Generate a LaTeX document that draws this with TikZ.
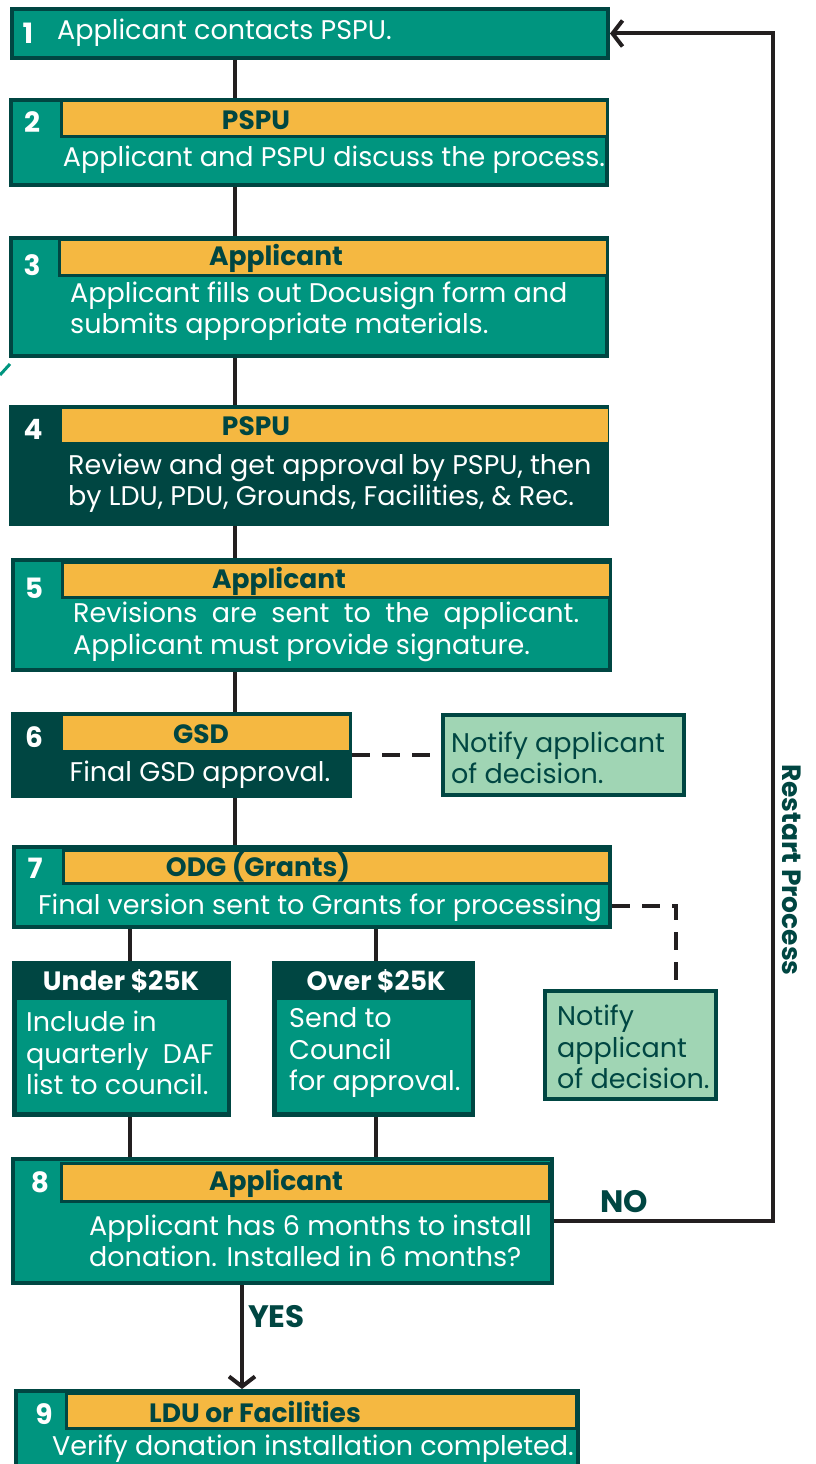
\documentclass[tikz,border=0pt]{standalone}
\usepackage{fontspec}
\setmainfont{Poppins}
\usetikzlibrary{arrows.meta}

\definecolor{stepgreen}{HTML}{00957F}
\definecolor{darkgreen}{HTML}{004642}
\definecolor{gold}{HTML}{F5B841}
\definecolor{mint}{HTML}{A0D5B4}
\definecolor{linkgray}{HTML}{231F20}

\begin{document}
\begin{tikzpicture}[x=1pt,y=-1pt,
      stepbox/.style={draw=darkgreen,fill=stepgreen,line width=4pt,inner sep=0pt},
      darkbox/.style={fill=darkgreen,inner sep=0pt},
      headbar/.style={draw=darkgreen,fill=gold,line width=3pt,inner sep=0pt},
      notebox/.style={draw=darkgreen,fill=mint,line width=4pt,inner sep=0pt},
      num/.style={text=white,font=\bfseries\fontsize{28}{28}\selectfont,inner sep=0pt},
      head/.style={text=darkgreen,font=\bfseries\fontsize{26.5}{26.5}\selectfont,inner sep=0pt},
      body/.style={text=white,font=\fontsize{27}{31.5}\selectfont,inner sep=0pt,align=left},
      note/.style={body,text=darkgreen},
      link/.style={draw=linkgray,line width=4pt},
      dashline/.style={link,dash pattern=on 18pt off 12pt},
      >={Straight Barb[length=10pt,width=26pt]}]

    \clip (0,0) rectangle (815,1464);
    \useasboundingbox (0,0) rectangle (815,1464);

    % spine coordinates
    \coordinate (spine) at (235,0);
    \coordinate (cu) at (130,0);
    \coordinate (co) at (376,0);
    \coordinate (cy) at (242,0);
    \coordinate (loop) at (773,0);
    \coordinate (d7) at (0,906);
    \coordinate (dn) at (676,0);

    \draw[stepgreen,line width=3pt] (0,375) -- (10,364);

    % step boxes
    \node[stepbox,minimum width=596pt,minimum height=49pt] (s1) at (310,33.5) {};
    \node[stepbox,minimum width=596pt,minimum height=85pt] (s2) at (309,142.5) {};
    \node[headbar,minimum width=546pt,minimum height=36pt] (h2) at (334,118) {};
    \node[stepbox,minimum width=596pt,minimum height=118pt] (s3) at (309,297) {};
    \node[headbar,minimum width=548pt,minimum height=36pt] (h3) at (333,257) {};
    \node[darkbox,minimum width=600pt,minimum height=121pt] (s4) at (309,465.5) {};
    \node[headbar,draw=gold,line width=0pt,minimum width=545pt,minimum height=32pt] (h4) at (334.5,425) {};
    \node[stepbox,minimum width=597pt,minimum height=110pt] (s5) at (311.5,615) {};
    \node[headbar,minimum width=548pt,minimum height=35pt] (h5) at (336,579.5) {};
    \node[darkbox,minimum width=341pt,minimum height=86pt] (s6) at (181.5,755) {};
    \node[headbar,draw=gold,line width=0pt,minimum width=285pt,minimum height=33pt] (h6) at (205.5,732.5) {};
    \node[notebox,minimum width=241pt,minimum height=80pt] (n1) at (563.5,755) {};
    \node[stepbox,minimum width=596pt,minimum height=80pt] (s7) at (312,887) {};
    \node[headbar,minimum width=546pt,minimum height=33pt] (h7) at (336,866.5) {};
    \node[darkbox,minimum width=219pt,minimum height=156pt] (u) at (121.5,1039) {};
    \node[fill=stepgreen,inner sep=0pt,minimum width=210pt,minimum height=112pt] (ub) at (122,1056) {};
    \node[darkbox,minimum width=203pt,minimum height=156pt] (o) at (373.5,1039) {};
    \node[fill=stepgreen,inner sep=0pt,minimum width=194pt,minimum height=112pt] (ob) at (374,1056) {};
    \node[notebox,minimum width=171pt,minimum height=108pt] (n2) at (630.5,1045) {};
    \node[stepbox,minimum width=539pt,minimum height=124pt] (s8) at (282.5,1221) {};
    \node[headbar,minimum width=488pt,minimum height=38pt] (h8) at (305,1182) {};
    \node[stepbox,minimum width=562pt,minimum height=92pt] (s9) at (297,1437) {};
    \node[headbar,minimum width=510pt,minimum height=35pt] (h9) at (321,1410.5) {};

    % numbers
    \node[num] (k1) at (28,33) {1};
    \node[num] (k2) at (32,122) {2};
    \node[num] (k3) at (32,265) {3};
    \node[num] (k4) at (33,429) {4};
    \node[num] (k5) at (34,588) {5};
    \node[num] (k6) at (34,737) {6};
    \node[num] (k7) at (35,868) {7};
    \node[num] (k8) at (40,1182) {8};
    \node[num] (k9) at (44,1414) {9};

    % header texts
    \node[head] (l2) at (256,120) {PSPU};
    \node[head] (l3) at (276,258) {Applicant};
    \node[head] (l4) at (256,426) {PSPU};
    \node[head] (l5) at (279,581) {Applicant};
    \node[head] (l6) at (201,734) {GSD};
    \node[head] (l7) at (258,867) {ODG (Grants)};
    \node[head] (l8) at (276,1183) {Applicant};
    \node[head] (l9) at (255,1412) {LDU or Facilities};
    \node[head,text=white] (lu) at (121,981) {Under \$25K};
    \node[head,text=white] (lo) at (376,981) {Over \$25K};

    % body texts
    \node[body,anchor=west] (t1) at (57,33) {Applicant contacts PSPU.};
    \node[body] (t2) at (334,160) {Applicant and PSPU discuss the process.};
    \node[body,anchor=west] (t3) at (70,311) {Applicant fills out Docusign form and\\submits appropriate materials.};
    \node[body,anchor=west] (t4) at (68,483) {Review and get approval by PSPU, then\\by LDU, PDU, Grounds, Facilities, \& Rec.};
    \node[body,anchor=west] (t5) at (73,632) {\makebox[506pt][s]{Revisions are sent to the applicant.}\\Applicant must provide signature.};
    \node[body] (t6) at (200,775) {Final GSD approval.};
    \node[body] (t7) at (320,908) {Final version sent to Grants for processing};
    \node[note,anchor=west] (tn1) at (451,758) {Notify applicant\\ of decision.};
    \node[body,anchor=west] (tu) at (26,1053) {Include in\\quarterly~ DAF\\list to council.};
    \node[body,anchor=west] (to) at (289,1053) {Send to\\Council\\for approval.};
    \node[note,anchor=west] (tn2) at (557,1047) {Notify\\applicant\\of decision.};
    \node[body,anchor=west] (t8) at (89,1241) {Applicant has 6 months to install\\donation. Installed in 6 months?};
    \node[body] (t9) at (313,1449) {Verify donation installation completed.};

    % connectors
    \draw[link] (s1.south -| spine) -- (s2.north -| spine);
    \draw[link] (s2.south -| spine) -- (s3.north -| spine);
    \draw[link] (s3.south -| spine) -- (s4.north -| spine);
    \draw[link] (s4.south -| spine) -- (s5.north -| spine);
    \draw[link] (s5.south -| spine) -- (s6.north -| spine);
    \draw[link] (s6.south -| spine) -- (s7.north -| spine);
    \draw[link] (s7.south -| cu) -- (u.north -| cu);
    \draw[link] (s7.south -| co) -- (o.north -| co);
    \draw[link] (u.south -| cu) -- (s8.north -| cu);
    \draw[link] (o.south -| co) -- (s8.north -| co);
    \draw[link,->] (s8.south -| cy) -- node[right,head,font=\bfseries\fontsize{31}{31}\selectfont,pos=0.3,xshift=4pt] (yes) {YES} (s9.north -| cy);
    \draw[link,->] (s8.east) -- (s8.east -| loop) -- (s1.east -| loop) -- (s1.east);
    \draw[dashline] (s6.east) -- (n1.west);
    \draw[dashline] (s7.east |- d7) -| (n2.north -| dn);

    \node[head,font=\bfseries\fontsize{31}{31}\selectfont] (no) at (624,1202) {NO};
    \node[head,rotate=-90] (restart) at (792,870) {Restart Process};
\end{tikzpicture}
\end{document}
